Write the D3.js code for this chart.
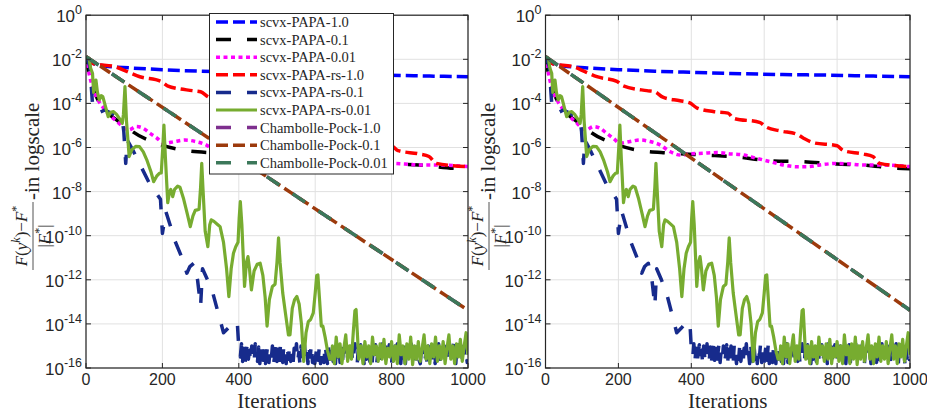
<!DOCTYPE html>
<html><head><meta charset="utf-8">
<script src="https://cdn.jsdelivr.net/npm/d3@7"></script>
<style>body{margin:0;background:#fff} svg{display:block}</style>
</head><body><svg id="c" width="927" height="414"></svg>
<script>
// ---------------- DATA ----------------
const iterTicks = [0, 200, 400, 600, 800, 1000];
const expTicks = [0, -2, -4, -6, -8, -10, -12, -14, -16];
const legendNames = ["scvx-PAPA-1.0","scvx-PAPA-0.1","scvx-PAPA-0.01","scvx-PAPA-rs-1.0","scvx-PAPA-rs-0.1","scvx-PAPA-rs-0.01","Chambolle-Pock-1.0","Chambolle-Pock-0.1","Chambolle-Pock-0.01"];

// each point: [iteration, log10 of relative error]
const papa10 = [[0,-1.88],[20,-2.2],[50,-2.3],[115,-2.39],[200,-2.47],[300,-2.54],[400,-2.59],[507,-2.64],[650,-2.69],[781,-2.72],[900,-2.76],[1000,-2.79]];
const papa01 = [[0,-1.88],[10,-2.8],[25,-3.6],[50,-4.3],[80,-4.75],[103,-5.02],[122,-5.28],[185,-5.81],[250,-6.11],[341,-6.25],[432,-6.34],[525,-6.43],[616,-6.6],[707,-6.64],[799,-6.75],[871,-6.79],[963,-6.94],[1000,-6.96]];
const papa001 = [[0,-1.88],[10,-2.8],[25,-3.6],[50,-4.3],[80,-4.8],[113,-5.2],[131,-5.05],[150,-5.13],[168,-5.36],[186,-5.58],[204,-5.81],[232,-5.73],[259,-5.66],[287,-5.73],[314,-5.88],[342,-6.19],[369,-6.34],[396,-6.29],[433,-6.26],[470,-6.23],[506,-6.29],[543,-6.34],[579,-6.49],[616,-6.64],[652,-6.79],[689,-6.87],[717,-6.87],[753,-6.79],[799,-6.72],[835,-6.75],[872,-6.79],[918,-6.79],[963,-6.82],[1000,-6.87]];
const rs10 = [[0,-1.88],[20,-2.2],[75,-2.33],[108,-2.56],[141,-2.79],[196,-3.0],[213,-3.2],[278,-3.42],[300,-3.47],[322,-3.72],[369,-3.88],[396,-3.98],[416,-4.21],[460,-4.37],[501,-4.44],[515,-4.67],[589,-4.87],[603,-5.05],[644,-5.25],[690,-5.4],[708,-5.58],[734,-5.78],[800,-5.92],[817,-6.14],[871,-6.29],[898,-6.41],[917,-6.72],[1000,-6.87]];
// scvx-PAPA-rs-0.1: decay part, then the noise floor (every 3 iterations from 404)
const rs01Decay = [[0,-1.88],[10,-2.3],[17,-4.0],[31,-4.45],[49,-4.3],[76,-4.52],[95,-4.75],[99,-5.28],[104,-6.72],[108,-5.66],[125,-6.2],[140,-6.72],[168,-7.7],[185,-8.1],[195,-8.35],[200,-9.9],[209,-8.9],[220,-9.5],[232,-10.2],[250,-10.95],[264,-11.7],[272,-11.4],[282,-11.25],[292,-12.0],[300,-13.2],[305,-11.5],[318,-12.0],[332,-12.6],[346,-13.5],[360,-14.4],[372,-14.2],[385,-13.95],[396,-13.9],[401,-15.4]];
const rs01NoiseStart = 404, rs01NoiseStep = 3;
const rs01Noise = [
 -15.5,-14.9,-15.7,-15.1,-15.8,-15.3,-14.95,-15.6,-15.2,-15.75,
 -15.0,-15.55,-15.8,-14.9,-15.4,-15.7,-15.05,-15.8,-15.25,-14.95,
 -15.65,-15.1,-15.8,-15.35,-14.9,-15.75,-15.2,-15.6,-15.0,-15.8,
 -15.45,-14.95,-15.7,-15.15,-15.8,-15.0,-15.5,-15.75,-14.9,-15.3,
 -15.8,-15.05,-15.6,-14.95,-15.7,-15.25,-15.8,-15.1,-15.55,-14.9,
 -15.75,-15.3,-15.8,-15.0,-15.45,-15.7,-14.95,-15.6,-15.15,-15.8,
 -15.05,-15.5,-14.9,-15.75,-15.2,-15.8,-15.35,-15.0,-15.65,-14.95,
 -15.8,-15.1,-15.55,-15.75,-14.9,-15.4,-15.8,-15.05,-15.6,-15.25,
 -14.95,-15.7,-15.15,-15.8,-15.0,-15.5,-14.9,-15.75,-15.3,-15.8,
 -15.1,-15.6,-14.95,-15.8,-15.2,-15.45,-15.7,-15.0,-15.8,-15.35,
 -14.9,-15.65,-15.8,-15.1,-15.5,-14.95,-15.75,-15.25,-15.8,-15.05,
 -15.6,-15.2,-14.9,-15.7,-15.4,-15.8,-15.0,-15.55,-14.95,-15.8,
 -15.3,-15.75,-15.1,-15.8,-14.9,-15.5,-15.65,-15.05,-15.8,-15.2,
 -14.95,-15.6,-15.8,-15.15,-15.7,-15.0,-15.45,-14.9,-15.75,-15.35,
 -15.8,-15.1,-15.55,-14.95,-15.8,-15.25,-15.7,-15.0,-15.6,-14.9,
 -15.4,-15.8,-15.05,-15.75,-15.2,-14.95,-15.65,-15.8,-15.1,-15.5,
 -14.9,-15.7,-15.3,-15.8,-15.0,-15.6,-15.15,-14.95,-15.75,-15.45,
 -15.8,-15.05,-15.55,-14.9,-15.7,-15.2,-15.8,-15.35,-15.0,-15.65,
 -15.1,-15.8,-14.95,-15.5,-15.75,-15.25,-14.9,-15.6,-15.8,-15.05,
 -15.4,-14.95,-15.7,-15.15,-15.8,-15.0,-15.55,-15.3,-15.75];
const rs01End = [[1000,-15.6]];
const rs01 = rs01Decay.concat(rs01Noise.map((v, i) => [rs01NoiseStart + i * rs01NoiseStep, v]), rs01End);
const rs001 = [[0,-1.88],[8,-1.95],[12,-2.4],[17,-2.63],[20,-3.5],[22,-3.24],[26,-2.94],[30,-3.5],[35,-3.84],[40,-3.65],[44,-3.69],[52,-4.2],[58,-4.6],[65,-4.4],[72,-4.37],[80,-4.5],[90,-4.75],[95,-4.9],[98,-4.5],[102,-3.24],[106,-4.8],[113,-6.41],[120,-6.1],[130,-5.95],[140,-5.96],[150,-6.2],[160,-6.6],[170,-7.1],[177,-7.55],[185,-7.3],[192,-7.17],[197,-7.15],[201,-6.0],[204,-4.98],[208,-6.5],[214,-8.5],[218,-8.07],[222,-7.9],[227,-8.23],[232,-7.9],[240,-7.75],[246,-7.8],[255,-8.3],[265,-9.0],[273,-9.59],[280,-9.1],[286,-8.85],[291,-8.83],[296,-8.8],[300,-7.8],[303,-6.72],[306,-7.8],[312,-9.8],[319,-10.5],[324,-9.5],[328,-9.28],[335,-9.35],[345,-9.5],[351,-9.59],[360,-10.3],[368,-11.5],[374,-12.76],[380,-11.5],[386,-10.8],[392,-10.5],[398,-10.3],[401,-9.2],[404,-8.45],[408,-9.5],[415,-12.3],[420,-11.2],[424,-10.95],[428,-11.5],[433,-12.46],[440,-11.6],[448,-11.3],[456,-11.25],[463,-11.8],[469,-12.8],[474,-14.1],[480,-12.9],[488,-12.3],[495,-12.2],[500,-11.2],[504,-10.1],[508,-11.2],[515,-12.6],[522,-13.5],[530,-14.5],[534,-14.5],[540,-13.3],[546,-12.9],[552,-12.76],[558,-13.1],[564,-14.0],[570,-15.7],[576,-14.4],[582,-13.9],[588,-13.8],[595,-13.5],[600,-12.6],[604,-11.8],[607,-11.78],[611,-12.8],[616,-14.1],[620,-14.1],[626,-14.6],[632,-15.2],[638,-15.6],[643,-15.6],
  [645,-15.0],[650,-15.8],[655,-14.6],[660,-15.5],[665,-14.9],[670,-15.8],[675,-15.1],[680,-14.5],[685,-15.7],[690,-15.0],[695,-15.6],[700,-14.3],[704,-13.4],[707,-13.35],[710,-14.3],[714,-15.6],[720,-15.0],[725,-15.8],[730,-14.8],[735,-15.5],[740,-15.0],[745,-15.8],[750,-14.6],[755,-15.4],[760,-15.0],[765,-15.7],[770,-14.9],[775,-15.6],[780,-14.7],[785,-15.8],[790,-15.1],[795,-15.5],[800,-14.8],[805,-15.7],[810,-15.0],[815,-15.8],[820,-14.5],[825,-15.4],[830,-15.0],[835,-15.8],[840,-14.9],[845,-15.6],[850,-14.6],[855,-15.85],[860,-15.0],[865,-15.6],[870,-14.8],[875,-15.7],[880,-15.1],[885,-14.5],[890,-15.6],[895,-15.0],[900,-15.8],[905,-14.9],[910,-15.5],[915,-14.6],[920,-15.7],[925,-15.0],[930,-15.6],[935,-14.8],[940,-15.8],[945,-15.1],[950,-14.5],[955,-15.6],[960,-15.0],[965,-15.8],[970,-14.9],[975,-15.5],[980,-14.7],[985,-15.7],[990,-15.0],[995,-14.4],[1000,-15.4]];
const cp10 = [[0,-1.88],[1000,-13.38]];
const cp01 = [[0,-1.88],[1000,-13.38]];
const cp001 = [[0,-1.88],[1000,-13.38]];
const seriesData = [papa10, papa01, papa001, rs10, rs01, rs001, cp10, cp01, cp001];

// ---------------- STYLE ----------------
const styles = [
  {c:"#0000ff", w:3.5, d:"12,5", curve:d3.curveMonotoneX},
  {c:"#000000", w:3.5, d:"15,16", curve:d3.curveMonotoneX},
  {c:"#ff00ff", w:3.5, d:"4,3.5", curve:d3.curveMonotoneX},
  {c:"#ff0000", w:3.5, d:"12,5", curve:d3.curveMonotoneX},
  {c:"#172b8c", w:3.5, d:"15,16", curve:d3.curveLinear},
  {c:"#77ac30", w:3.2, d:null,    curve:d3.curveLinear},
  {c:"#7e2f8e", w:3.5, d:"15,16", curve:d3.curveLinear},
  {c:"#9c3a0c", w:3.5, d:"12,5", curve:d3.curveLinear},
  {c:"#3c785a", w:3.5, d:"15,16", curve:d3.curveLinear}
];
const AX = "#262626";
const SANS = "'Liberation Sans', Arial, Helvetica, sans-serif";
const SERIF = "'Liberation Serif', 'Times New Roman', serif";

const svg = d3.select("#c");
const panels = [{l:86, r:468, lab:39}, {l:545.5, r:910, lab:495}];
const yTop = 15.2, yBot = 368;

panels.forEach((p, pi) => {
  const x = d3.scaleLinear().domain([0, 1000]).range([p.l, p.r]);
  const y = d3.scaleLog().domain([1e-16, 1]).range([yBot, yTop]);
  const g = svg.append("g");
  const cid = "clip" + pi;
  svg.append("clipPath").attr("id", cid).append("rect")
    .attr("x", p.l).attr("y", yTop).attr("width", p.r - p.l).attr("height", yBot - yTop);

  // grid
  g.selectAll(".gx").data(iterTicks).join("line")
    .attr("x1", d => x(d)).attr("x2", d => x(d)).attr("y1", yTop).attr("y2", yBot)
    .attr("stroke", "#e1e1e1").attr("stroke-width", 1);
  g.selectAll(".gy").data(expTicks).join("line")
    .attr("x1", p.l).attr("x2", p.r).attr("y1", d => y(Math.pow(10, d))).attr("y2", d => y(Math.pow(10, d)))
    .attr("stroke", "#e1e1e1").attr("stroke-width", 1);

  // series
  const lg = g.append("g").attr("clip-path", `url(#${cid})`);
  seriesData.forEach((s, i) => {
    const st = styles[i];
    const line = d3.line().x(d => x(d[0])).y(d => y(Math.pow(10, d[1]))).curve(st.curve);
    lg.append("path").attr("d", line(s)).attr("fill", "none")
      .attr("stroke", st.c).attr("stroke-width", st.w)
      .attr("stroke-dasharray", st.d).attr("stroke-linejoin", "round");
  });

  // box
  g.append("rect").attr("x", p.l).attr("y", yTop).attr("width", p.r - p.l).attr("height", yBot - yTop)
    .attr("fill", "none").attr("stroke", AX).attr("stroke-width", 1.2);

  // ticks (inside, all four sides)
  const tl = 5;
  iterTicks.forEach(t => {
    g.append("line").attr("x1", x(t)).attr("x2", x(t)).attr("y1", yBot).attr("y2", yBot - tl).attr("stroke", AX);
    g.append("line").attr("x1", x(t)).attr("x2", x(t)).attr("y1", yTop).attr("y2", yTop + tl).attr("stroke", AX);
    g.append("text").attr("x", x(t)).attr("y", 385).attr("text-anchor", "middle")
      .attr("font-family", SANS).attr("font-size", 16).attr("fill", AX).text(t);
  });
  expTicks.forEach(e => {
    const yy = y(Math.pow(10, e));
    g.append("line").attr("x1", p.l).attr("x2", p.l + tl).attr("y1", yy).attr("y2", yy).attr("stroke", AX);
    g.append("line").attr("x1", p.r).attr("x2", p.r - tl).attr("y1", yy).attr("y2", yy).attr("stroke", AX);
    const t = g.append("text").attr("x", p.l - 4).attr("y", yy + 7).attr("text-anchor", "end")
      .attr("font-family", SANS).attr("font-size", 17).attr("fill", AX);
    t.append("tspan").text("10");
    t.append("tspan").attr("dy", -8).attr("font-size", 12.5).text(String(e));
  });

  // x label
  g.append("text").attr("x", (p.l + p.r) / 2).attr("y", 407.5).attr("text-anchor", "middle")
    .attr("font-family", SERIF).attr("font-size", 21).attr("fill", AX).text("Iterations");

  // y label (rotated)
  const yl = g.append("g").attr("transform", `translate(${p.lab},0) rotate(-90)`)
    .attr("font-family", SERIF).attr("fill", AX);
  const num = yl.append("text").attr("x", -236).attr("y", -12).attr("text-anchor", "middle").attr("font-size", 17);
  num.append("tspan").attr("font-style", "italic").text("F");
  num.append("tspan").text("(");
  num.append("tspan").attr("font-style", "italic").text("y");
  num.append("tspan").attr("font-style", "italic").attr("font-size", 12).attr("dy", -7).text("k");
  num.append("tspan").attr("dy", 7).text(")\u2212");
  num.append("tspan").attr("font-style", "italic").text("F");
  num.append("tspan").attr("font-size", 12).attr("dy", -7).text("*");
  yl.append("line").attr("x1", -270).attr("x2", -202).attr("y1", -6).attr("y2", -6)
    .attr("stroke", AX).attr("stroke-width", 0.8);
  const den = yl.append("text").attr("x", -236).attr("y", 11).attr("text-anchor", "middle").attr("font-size", 17);
  den.append("tspan").text("|");
  den.append("tspan").attr("font-style", "italic").text("F");
  den.append("tspan").attr("font-size", 12).attr("dy", -7).text("*");
  den.append("tspan").attr("dy", 7).text("|");
  yl.append("text").attr("x", -200).attr("y", 0).attr("text-anchor", "start").attr("font-size", 21).text("-in logscale");

  // legend only in left panel
  if (pi === 0) {
    const L = g.append("g");
    L.append("rect").attr("x", 209.5).attr("y", 13.5).attr("width", 184).attr("height", 160.5)
      .attr("fill", "#fff").attr("stroke", AX).attr("stroke-width", 1);
    legendNames.forEach((n, i) => {
      const cy = 22 + i * 17.6;
      const st = styles[i];
      L.append("line").attr("x1", 216).attr("x2", 257).attr("y1", cy).attr("y2", cy)
        .attr("stroke", st.c).attr("stroke-width", st.w).attr("stroke-dasharray", st.d);
      L.append("text").attr("x", 260).attr("y", cy + 5).attr("font-family", SERIF)
        .attr("font-size", 14.5).attr("fill", AX).text(n);
    });
  }
});
</script></body></html>
